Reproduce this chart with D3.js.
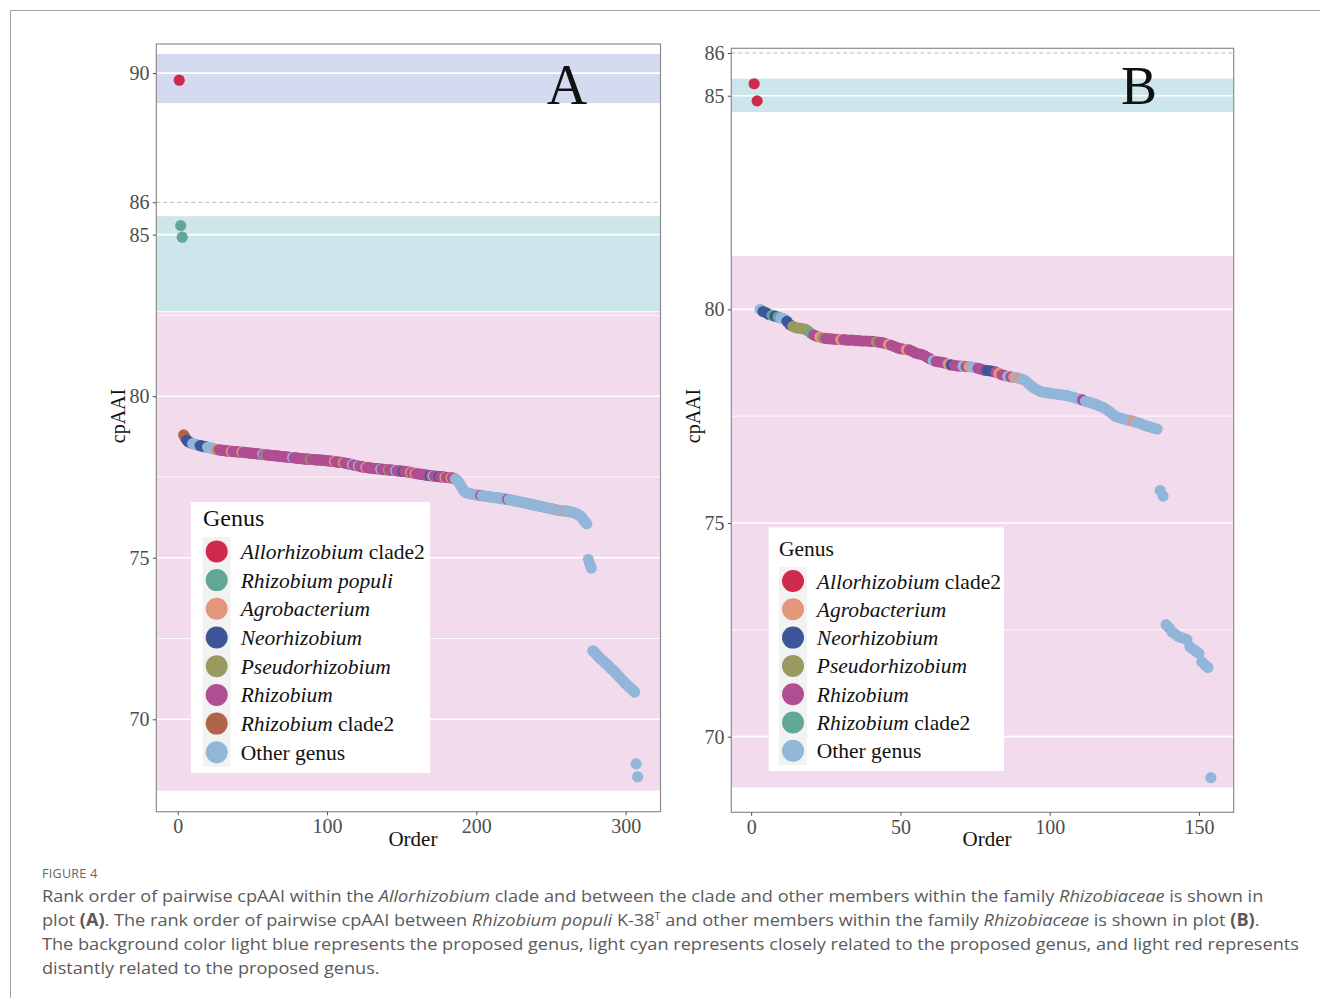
<!DOCTYPE html>
<html>
<head>
<meta charset="utf-8">
<script src="https://cdn.jsdelivr.net/npm/d3@7"></script>
<style>
  body { margin: 0; background: #fff; }
  svg { display: block; }
</style>
</head>
<body>
<svg id="fig" width="1320" height="998"></svg>
<script>
// ---------------------------------------------------------------
// Data: pairwise cpAAI values in rank order (one value per pair)
// Genus codes: L Allorhizobium clade2, P Rhizobium populi,
// G Agrobacterium, N Neorhizobium, S Pseudorhizobium,
// R Rhizobium, C Rhizobium clade2, O Other genus
// ---------------------------------------------------------------
const cpaaiA = [
  89.78, 85.28, 84.92, 78.80, 78.72, 78.64, 78.60, 78.57, 78.55, 78.53,
  78.52, 78.50, 78.49, 78.48, 78.47, 78.46, 78.45, 78.44, 78.43, 78.42,
  78.41, 78.40, 78.39, 78.37, 78.36, 78.35, 78.34, 78.34, 78.33, 78.32,
  78.32, 78.31, 78.31, 78.30, 78.30, 78.29, 78.29, 78.28, 78.28, 78.28,
  78.27, 78.27, 78.27, 78.26, 78.26, 78.25, 78.25, 78.24, 78.24, 78.23,
  78.23, 78.22, 78.22, 78.21, 78.21, 78.20, 78.20, 78.19, 78.19, 78.18,
  78.18, 78.17, 78.17, 78.16, 78.16, 78.15, 78.15, 78.14, 78.14, 78.13,
  78.13, 78.12, 78.12, 78.11, 78.11, 78.10, 78.10, 78.09, 78.09, 78.08,
  78.08, 78.07, 78.07, 78.06, 78.06, 78.05, 78.05, 78.05, 78.04, 78.04,
  78.04, 78.03, 78.03, 78.03, 78.02, 78.02, 78.02, 78.01, 78.01, 78.00,
  78.00, 77.99, 77.99, 77.98, 77.98, 77.97, 77.96, 77.96, 77.95, 77.95,
  77.94, 77.93, 77.92, 77.91, 77.90, 77.89, 77.88, 77.87, 77.86, 77.85,
  77.84, 77.83, 77.82, 77.81, 77.80, 77.80, 77.79, 77.78, 77.78, 77.77,
  77.77, 77.76, 77.76, 77.75, 77.75, 77.74, 77.74, 77.73, 77.73, 77.72,
  77.72, 77.72, 77.71, 77.71, 77.70, 77.70, 77.69, 77.69, 77.68, 77.68,
  77.67, 77.67, 77.66, 77.66, 77.65, 77.64, 77.63, 77.62, 77.61, 77.60,
  77.60, 77.59, 77.58, 77.58, 77.57, 77.56, 77.55, 77.55, 77.54, 77.54,
  77.53, 77.53, 77.52, 77.52, 77.51, 77.51, 77.50, 77.50, 77.49, 77.49,
  77.48, 77.48, 77.47, 77.47, 77.46, 77.44, 77.40, 77.35, 77.28, 77.20,
  77.12, 77.06, 77.02, 77.00, 76.99, 76.98, 76.97, 76.96, 76.95, 76.95,
  76.94, 76.93, 76.93, 76.92, 76.91, 76.91, 76.90, 76.89, 76.89, 76.88,
  76.87, 76.87, 76.86, 76.85, 76.85, 76.84, 76.83, 76.83, 76.82, 76.81,
  76.81, 76.80, 76.79, 76.78, 76.77, 76.76, 76.75, 76.74, 76.73, 76.72,
  76.71, 76.70, 76.69, 76.68, 76.67, 76.66, 76.65, 76.64, 76.63, 76.62,
  76.61, 76.60, 76.59, 76.58, 76.57, 76.56, 76.55, 76.54, 76.53, 76.52,
  76.51, 76.50, 76.49, 76.48, 76.47, 76.46, 76.46, 76.45, 76.45, 76.44,
  76.44, 76.43, 76.42, 76.41, 76.40, 76.38, 76.36, 76.34, 76.31, 76.28,
  76.22, 76.16, 76.10, 76.05, 74.95, 74.80, 74.68, 72.12, 72.08, 72.03,
  71.98, 71.93, 71.88, 71.84, 71.80, 71.76, 71.72, 71.68, 71.63, 71.58,
  71.54, 71.50, 71.45, 71.40, 71.35, 71.30, 71.25, 71.20, 71.15, 71.10,
  71.06, 71.02, 70.98, 70.94, 70.90, 70.84, 68.62, 68.22
];

const genusA = [
  "LPPCCNNNNO", "OOOONNNNNO", "OOOOOGSRRR", "RRRRRGRRRR", "RRGRRRRRRR",
  "RRRRRRORSR", "RRRRRRRRRR", "RRRRRRORRR", "RRRRRRRRSR", "RRRRRRRRRR",
  "RRRRGRRRRR", "GRRRRRORRR", "ORRRRGRRRR", "RRRRRORRRR", "SRRRRORRRR",
  "NRRRRGRRGR", "RRRRRRRRNR", "ORRRNRRRGR", "RRGRROOOOO", "OOOOOOOOOO",
  "OOROOOOOOO", "OOOOOOOOOO", "ROOOOOOOOO", "OOOOOOOOOO", "OOOOOOOOOO",
  "OOOOGOOOOG", "OOOOOOOOOO", "OOOOOOOOOO", "OOOOOOOOOO", "OOOOOOOOOO",
  "OOOOOOOO"
].join("");

const cpaaiB = [
  85.28, 84.88, 80.00, 79.95, 79.92, 79.88, 79.86, 79.84, 79.82, 79.80,
  79.78, 79.72, 79.64, 79.60, 79.57, 79.56, 79.55, 79.54, 79.50, 79.44,
  79.40, 79.37, 79.35, 79.33, 79.32, 79.31, 79.31, 79.30, 79.30, 79.29,
  79.29, 79.28, 79.28, 79.28, 79.27, 79.27, 79.26, 79.26, 79.26, 79.25,
  79.25, 79.24, 79.23, 79.22, 79.20, 79.18, 79.16, 79.13, 79.10, 79.08,
  79.07, 79.06, 79.05, 79.02, 78.98, 78.96, 78.95, 78.92, 78.88, 78.84,
  78.80, 78.78, 78.77, 78.76, 78.74, 78.72, 78.70, 78.69, 78.68, 78.67,
  78.67, 78.66, 78.66, 78.65, 78.64, 78.62, 78.60, 78.58, 78.57, 78.56,
  78.55, 78.53, 78.50, 78.47, 78.45, 78.43, 78.42, 78.41, 78.40, 78.38,
  78.36, 78.32, 78.26, 78.20, 78.15, 78.11, 78.08, 78.06, 78.05, 78.04,
  78.03, 78.02, 78.01, 78.00, 77.99, 77.98, 77.96, 77.94, 77.92, 77.90,
  77.88, 77.85, 77.83, 77.81, 77.79, 77.76, 77.73, 77.70, 77.66, 77.61,
  77.55, 77.50, 77.47, 77.45, 77.43, 77.41, 77.40, 77.38, 77.36, 77.34,
  77.31, 77.28, 77.26, 77.24, 77.22, 77.20, 75.76, 75.63, 72.62, 72.55,
  72.45, 72.40, 72.35, 72.32, 72.30, 72.27, 72.10, 72.05, 72.00, 71.95,
  71.75, 71.68, 71.62, 69.04
];

const genusB = [
  "LLONNNCNCO", "ONNSSSSSSC", "RRGSRRRRRG", "RRRRRRRRRR", "RSRRRGRRRR",
  "RGRRRRRRRR", "ORRRRGNRRR", "ORGOORRRNN", "NRGRRORGOG", "OOOOOOOOOO",
  "OOOOOOOOOO", "ROOOOOOOOO", "OOOOOOOGOO", "OOOOOOOOOO", "OOOOOOOOOO",
  "OOOO"
].join("");

// Axis breaks
const xTicksA = [0, 100, 200, 300];
const xTicksB = [0, 50, 100, 150];
const yTicksA = [70, 75, 80, 85, 86, 90];
const yTicksB = [70, 75, 80, 85, 86];

// Relatedness zones [zone, lower cpAAI, upper cpAAI]
const bandsA = [["proposed", 89.07, 90.59], ["close", 82.63, 85.57], ["distant", 67.79, 82.60]];
const bandsB = [["close", 84.62, 85.40], ["distant", 68.81, 81.25]];
const thresholdCpaai = 86;

// Legend entries per plot: [code, italic part, plain part]
const legendA = [
  ["L", "Allorhizobium", " clade2"], ["P", "Rhizobium populi", ""],
  ["G", "Agrobacterium", ""], ["N", "Neorhizobium", ""],
  ["S", "Pseudorhizobium", ""], ["R", "Rhizobium", ""],
  ["C", "Rhizobium", " clade2"], ["O", "", "Other genus"]
];
const legendB = [
  ["L", "Allorhizobium", " clade2"], ["G", "Agrobacterium", ""],
  ["N", "Neorhizobium", ""], ["S", "Pseudorhizobium", ""],
  ["R", "Rhizobium", ""], ["C", "Rhizobium", " clade2"],
  ["O", "", "Other genus"]
];

// ---------------------------------------------------------------
// Styling
// ---------------------------------------------------------------
const baseColors = {
  L: "#CF2A4B", P: "#62A795", G: "#E2967A", N: "#3D5599",
  S: "#999A5E", R: "#B14E92", O: "#92B6DA"
};
const colorsA = Object.assign({}, baseColors, { C: "#AF6449" });
const colorsB = Object.assign({}, baseColors, { C: "#63A796" });
const zoneFill = { proposed: "#D4DBF0", close: "#CDE6EB", distant: "#F3DBEE" };

const SERIF = "'Liberation Serif', 'Times New Roman', Times, serif";
const SANS = "'Open Sans', 'Noto Sans', sans-serif";

const svg = d3.select("#fig");

// figure frame (top and left edges)
svg.append("path")
  .attr("d", "M10.5,998 V10.5 H1320")
  .attr("fill", "none")
  .attr("stroke", "#a0a0a0")
  .attr("stroke-width", 1);

function drawPanel(o) {
  const g = svg.append("g");
  const x = d3.scaleLinear().domain(o.xDomain).range([o.left, o.right]);
  const y = d3.scaleLinear().domain(o.yDomain).range([o.bottom, o.top]);

  // panel background
  g.append("rect")
    .attr("x", o.left).attr("y", o.top)
    .attr("width", o.right - o.left).attr("height", o.bottom - o.top)
    .attr("fill", "#fff");

  // relatedness zones
  g.selectAll("rect.zone").data(o.bands).join("rect")
    .attr("class", "zone")
    .attr("x", o.left).attr("width", o.right - o.left)
    .attr("y", d => y(d[2]))
    .attr("height", d => y(d[1]) - y(d[2]))
    .attr("fill", d => zoneFill[d[0]]);

  // minor grid halfway between the 5-unit breaks, then major grid
  const minor = d3.pairs(o.yTicks).filter(([a, b]) => b - a === 5).map(([a, b]) => (a + b) / 2);
  g.selectAll("line.minor").data(minor).join("line")
    .attr("class", "minor")
    .attr("x1", o.left).attr("x2", o.right)
    .attr("y1", d => y(d)).attr("y2", d => y(d))
    .attr("stroke", "#fff").attr("stroke-width", 0.8);
  g.selectAll("line.major").data(o.yTicks.filter(t => t !== thresholdCpaai)).join("line")
    .attr("class", "major")
    .attr("x1", o.left).attr("x2", o.right)
    .attr("y1", d => y(d)).attr("y2", d => y(d))
    .attr("stroke", "#fff").attr("stroke-width", 1.6);

  // genus threshold
  g.append("line")
    .attr("x1", o.left).attr("x2", o.right)
    .attr("y1", y(thresholdCpaai)).attr("y2", y(thresholdCpaai))
    .attr("stroke", "#bdb3cc").attr("stroke-width", 1)
    .attr("stroke-dasharray", "4,3");

  // points, in rank order
  const pts = o.values.map((v, i) => ({ order: i + 1, v, code: o.genus[i] || "O" }));
  g.selectAll("circle.pt").data(pts).join("circle")
    .attr("class", "pt")
    .attr("cx", d => x(d.order))
    .attr("cy", d => y(d.v))
    .attr("r", 5.6)
    .attr("fill", d => o.colors[d.code]);

  // panel border
  g.append("rect")
    .attr("x", o.left).attr("y", o.top)
    .attr("width", o.right - o.left).attr("height", o.bottom - o.top)
    .attr("fill", "none").attr("stroke", "#8c8c8c").attr("stroke-width", 1.2);

  // axes
  const xAxis = g.append("g")
    .attr("transform", `translate(0,${o.bottom})`)
    .call(d3.axisBottom(x).tickValues(o.xTicks).tickSize(3.5).tickPadding(3.6));
  const yAxis = g.append("g")
    .attr("transform", `translate(${o.left},0)`)
    .call(d3.axisLeft(y).tickValues(o.yTicks).tickSize(3.5).tickPadding(3.3));
  [xAxis, yAxis].forEach(ax => {
    ax.select(".domain").remove();
    ax.selectAll(".tick line").attr("stroke", "#4d4d4d").attr("stroke-width", 1);
    ax.selectAll(".tick text")
      .attr("fill", "#4d4d4d")
      .style("font-family", SERIF)
      .style("font-size", "20px");
  });

  // axis titles
  g.append("text")
    .attr("x", (o.left + o.right) / 2 + 4.5).attr("y", 846)
    .attr("text-anchor", "middle")
    .style("font-family", SERIF).style("font-size", "21px")
    .attr("fill", "#111")
    .text("Order");
  g.append("text")
    .attr("transform", `translate(${o.yTitleX},416) rotate(-90)`)
    .attr("text-anchor", "middle")
    .style("font-family", SERIF).style("font-size", "20px")
    .attr("fill", "#111")
    .text("cpAAI");

  // panel letter
  g.append("text")
    .attr("x", o.letterX).attr("y", 104)
    .attr("text-anchor", "middle")
    .style("font-family", SERIF).style("font-size", o.letterSize + "px")
    .attr("fill", "#111")
    .text(o.letter);

  // legend
  const L = o.legend;
  const lg = g.append("g");
  lg.append("rect")
    .attr("x", L.x).attr("y", L.y).attr("width", L.w).attr("height", L.h)
    .attr("fill", "#fff");
  lg.append("text")
    .attr("x", L.titleX).attr("y", L.titleY)
    .style("font-family", SERIF).style("font-size", L.titleSize + "px")
    .attr("fill", "#111")
    .text("Genus");
  lg.append("rect")
    .attr("x", L.keyX - 14).attr("y", L.firstY - L.step / 2)
    .attr("width", 28).attr("height", L.step * o.entries.length)
    .attr("fill", "#f2f2f2");
  const items = lg.selectAll("g.item").data(o.entries).join("g")
    .attr("class", "item")
    .attr("transform", (d, i) => `translate(0,${L.firstY + i * L.step})`);
  items.append("circle")
    .attr("cx", L.keyX).attr("cy", 0).attr("r", 11)
    .attr("fill", d => o.colors[d[0]]);
  const lbl = items.append("text")
    .attr("x", L.textX).attr("y", 0).attr("dy", "0.35em")
    .style("font-family", SERIF).style("font-size", "21.5px")
    .attr("fill", "#111");
  lbl.append("tspan").style("font-style", "italic").text(d => d[1]);
  lbl.append("tspan").text(d => d[2]);
}

drawPanel({
  values: cpaaiA, genus: genusA, colors: colorsA, bands: bandsA,
  xTicks: xTicksA, yTicks: yTicksA,
  xDomain: [-14.35, 323.35], yDomain: [67.14, 90.90],
  left: 156.3, right: 660.5, top: 44, bottom: 811.7,
  yTitleX: 125, letter: "A", letterX: 567, letterSize: 56,
  entries: legendA,
  legend: { x: 191, y: 502, w: 239, h: 271, titleX: 203, titleY: 526, titleSize: 24,
            keyX: 216.7, textX: 240.7, firstY: 551.4, step: 28.7 }
});

drawPanel({
  values: cpaaiB, genus: genusB, colors: colorsB, bands: bandsB,
  xTicks: xTicksB, yTicks: yTicksB,
  xDomain: [-6.65, 161.65], yDomain: [68.23, 86.11],
  left: 731.3, right: 1233.7, top: 48.3, bottom: 812.3,
  yTitleX: 700, letter: "B", letterX: 1139, letterSize: 54,
  entries: legendB,
  legend: { x: 768.7, y: 527.3, w: 235.3, h: 243.7, titleX: 779, titleY: 556, titleSize: 21.5,
            keyX: 793, textX: 816.8, firstY: 581, step: 28.3 }
});

// ---------------------------------------------------------------
// Caption
// ---------------------------------------------------------------
svg.append("text")
  .attr("x", 42).attr("y", 878)
  .style("font-family", SANS).style("font-size", "12.5px")
  .style("letter-spacing", "0.3px")
  .attr("fill", "#666")
  .text("FIGURE 4");

// each segment: [text, style] with style "" plain, "i" italic, "b" bold, "sup" superscript
const captionLines = [
  [["Rank order of pairwise cpAAI within the ", ""], ["Allorhizobium", "i"],
   [" clade and between the clade and other members within the family ", ""],
   ["Rhizobiaceae", "i"], [" is shown in", ""]],
  [["plot ", ""], ["(A)", "b"], [". The rank order of pairwise cpAAI between ", ""],
   ["Rhizobium populi", "i"], [" K-38", ""], ["T", "sup"],
   [" and other members within the family ", ""], ["Rhizobiaceae", "i"],
   [" is shown in plot ", ""], ["(B)", "b"], [".", ""]],
  [["The background color light blue represents the proposed genus, light cyan represents closely related to the proposed genus, and light red represents", ""]],
  [["distantly related to the proposed genus.", ""]]
];
const captionWidthLine3 = 1258;
const captionY0 = 901.5, captionStep = 24;

const lineNodes = captionLines.map((segs, li) => {
  const t = svg.append("text")
    .attr("transform", `translate(42,${captionY0 + li * captionStep})`)
    .style("font-family", SANS).style("font-size", "17px")
    .attr("fill", "#5a5a5a");
  let raised = false;
  segs.forEach(([txt, st]) => {
    const sp = t.append("tspan").text(txt);
    if (st === "i") sp.style("font-style", "italic");
    if (st === "b") sp.style("font-weight", "700");
    if (st === "sup") {
      sp.attr("dy", -6).style("font-size", "10px");
      raised = true;
    } else if (raised) {
      sp.attr("dy", 6);
      raised = false;
    }
  });
  return t;
});

// condense caption glyphs so the wrapped lines keep their widths
const k = captionWidthLine3 / lineNodes[2].node().getComputedTextLength();
lineNodes.forEach((t, li) => {
  t.attr("transform", `translate(42,${captionY0 + li * captionStep}) scale(${k},1)`);
});
</script>
</body>
</html>
